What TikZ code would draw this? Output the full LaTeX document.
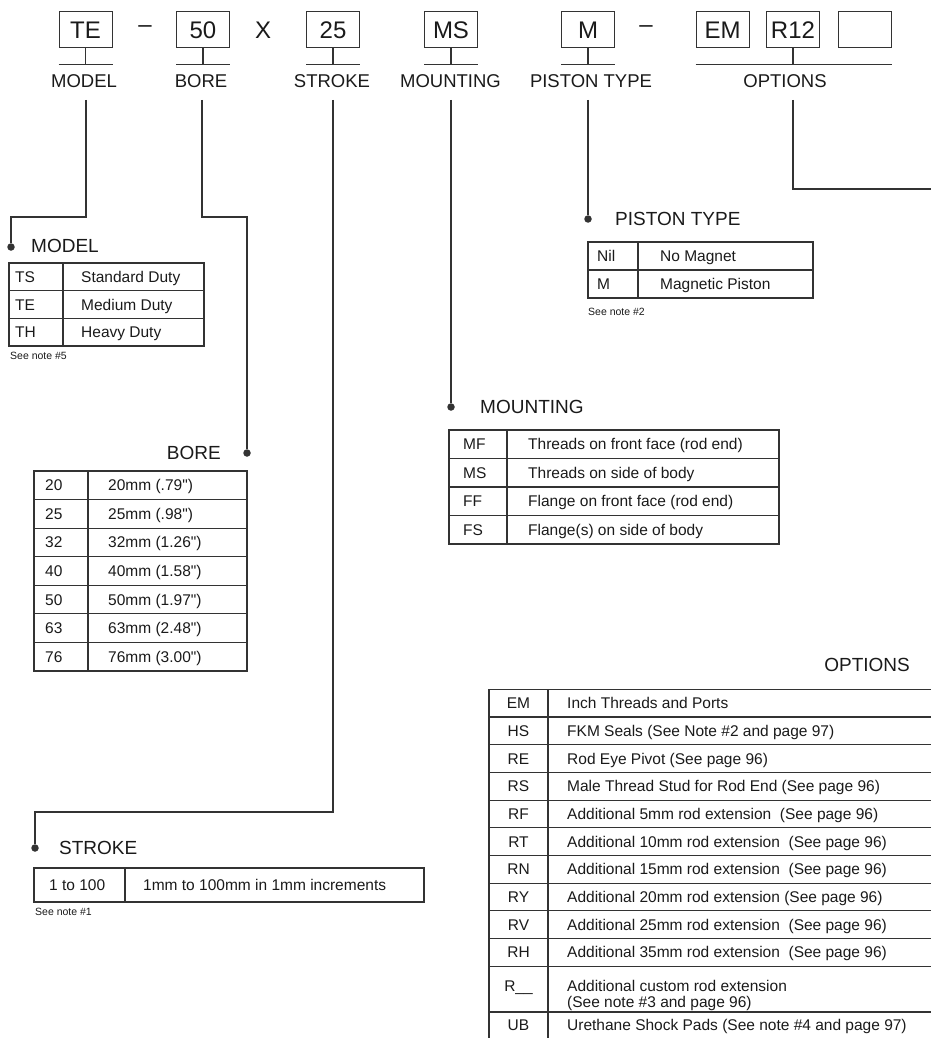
\documentclass[tikz,border=0pt]{standalone}
\usepackage{fontspec}
\setmainfont{Liberation Sans}
\usetikzlibrary{positioning}
\definecolor{linegray}{HTML}{333333}
\definecolor{inkgray}{HTML}{1A1A1A}

\tikzset{
  codebox/.style={draw=linegray, line width=1pt, minimum width=53pt, minimum height=36pt, inner sep=0pt, text=inkgray, font=\fontsize{24}{24}\selectfont},
  hdlabel/.style={inner sep=0pt, text=inkgray, font=\fontsize{18.5}{18.5}\selectfont},
  ttl/.style={inner sep=0pt, text=inkgray, font=\fontsize{19}{19}\selectfont},
  cell/.style={inner sep=0pt, anchor=west, text=inkgray, text height=11pt, text depth=0pt, font=\fontsize{15.5}{18}\selectfont},
  note/.style={inner sep=0pt, anchor=west, text=inkgray, font=\fontsize{10.5}{10.5}\selectfont},
  dot/.style={circle, fill=linegray, inner sep=0pt, minimum size=7.5pt},
  wire/.style={draw=linegray, line width=1.2pt},
  tbl/.style={draw=linegray, line width=1.1pt}
}

\begin{document}
\begin{tikzpicture}[x=1pt, y=-1pt]
\useasboundingbox (0,0) rectangle (931,1038);

% part number boxes
\foreach \n/\x/\t in {bTE/85.5/TE, bBore/203/50, bStroke/333/25, bMount/451/MS, bPiston/588/M, bEM/722.5/EM, bRod/793/R12}
  \node[codebox] (\n) at (\x,30) {\t};
\node[codebox] (bSpare) at (865,30) {};
\node[codebox, draw=none] (dashA) at (145,29) {--};
\node[codebox, draw=none] (times) at (263,30) {X};
\node[codebox, draw=none] (dashB) at (646,29) {--};

\foreach \n in {bTE,bBore,bStroke,bMount,bPiston} {
  \draw[wire] (\n.south) -- ++(0,16);
  \draw[wire] ([yshift=-16pt]\n.south west) -- ([yshift=-16pt]\n.south east);
}
\draw[wire] (bRod.south) -- ++(0,16);
\draw[wire] ([yshift=-16pt]bEM.south west) -- ([yshift=-16pt]bSpare.south east);

\node[hdlabel] (lModel) at (84,81) {MODEL};
\node[hdlabel] (lBore) at (201,81) {BORE};
\node[hdlabel] (lStroke) at (332,81) {STROKE};
\node[hdlabel] (lMount) at (450.5,81) {MOUNTING};
\node[hdlabel] (lPiston) at (591,81) {PISTON TYPE};
\node[hdlabel] (lOptions) at (785,81) {OPTIONS};

% leaders
\coordinate (cModel) at (86,100);
\coordinate (cBore) at (202,100);
\coordinate (cStroke) at (333,100);
\coordinate (cMount) at (451,100);
\coordinate (cPiston) at (588,100);
\coordinate (cOptions) at (793,100);

\node[dot] (dModel) at (11,247) {};
\node[dot] (dBore) at (247,453) {};
\node[dot] (dStroke) at (35,848) {};
\node[dot] (dMount) at (451,407) {};
\node[dot] (dPiston) at (588,219) {};
\coordinate (oEnd) at (931,189);

\draw[wire] (cModel) -- ++(0,117) -| (dModel);
\draw[wire] (cBore) -- ++(0,117) -| (dBore);
\draw[wire] (cStroke) -- ++(0,712) -| (dStroke);
\draw[wire] (cMount) -- (dMount);
\draw[wire] (cPiston) -- (dPiston);
\draw[wire] (cOptions) |- (oEnd);

% titles
\node[ttl, anchor=west] (tModel) at (31,246) {MODEL};
\node[ttl, anchor=east] (tBore) at (221,453) {BORE};
\node[ttl, anchor=west] (tStroke) at (59,848) {STROKE};
\node[ttl, anchor=west] (tMount) at (480,407) {MOUNTING};
\node[ttl, anchor=west] (tPiston) at (615,219) {PISTON TYPE};
\node[ttl, anchor=east] (tOptions) at (910,665) {OPTIONS};

% model table
\draw[tbl] (9,263) rectangle (204,346);
\draw[tbl] (63,263) -- (63,346);
\foreach \k/\v [count=\i] in {TS/Standard Duty, TE/Medium Duty, TH/Heavy Duty} {
  \pgfmathsetmacro\yy{263+(\i-0.5)*27.67}
  \pgfmathsetmacro\yl{263+(\i-1)*27.67}
  \ifnum\i>1 \draw[tbl] (9,\yl) -- (204,\yl); \fi
  \node[cell] (mk\i) at (15,\yy) {\k};
  \node[cell] (mv\i) at (81,\yy) {\v};
}
\node[note] (nModel) at (10,356) {See note \#5};

% bore table
\draw[tbl] (34,471) rectangle (247,671);
\draw[tbl] (88,471) -- (88,671);
\foreach \k/\v [count=\i] in {20/20mm (.79\textquotedbl), 25/25mm (.98\textquotedbl), 32/32mm (1.26\textquotedbl), 40/40mm (1.58\textquotedbl), 50/50mm (1.97\textquotedbl), 63/63mm (2.48\textquotedbl), 76/76mm (3.00\textquotedbl)} {
  \pgfmathsetmacro\yy{471+(\i-0.5)*28.57}
  \pgfmathsetmacro\yl{471+(\i-1)*28.57}
  \ifnum\i>1 \draw[tbl] (34,\yl) -- (247,\yl); \fi
  \node[cell] (bk\i) at (45,\yy) {\k};
  \node[cell] (bv\i) at (108,\yy) {\v};
}

% stroke table
\draw[tbl] (34,868) rectangle (424,902);
\draw[tbl] (125,868) -- (125,902);
\node[cell] (sk1) at (49,885) {1 to 100};
\node[cell] (sv1) at (143,885) {1mm to 100mm in 1mm increments};
\node[note] (nStroke) at (35,912) {See note \#1};

% mounting table
\draw[tbl] (449,430) rectangle (779,544);
\draw[tbl] (507,430) -- (507,544);
\foreach \k/\v [count=\i] in {MF/Threads on front face (rod end), MS/Threads on side of body, FF/Flange on front face (rod end), FS/Flange(s) on side of body} {
  \pgfmathsetmacro\yy{430+(\i-0.5)*28.5}
  \pgfmathsetmacro\yl{430+(\i-1)*28.5}
  \ifnum\i>1 \draw[tbl] (449,\yl) -- (779,\yl); \fi
  \node[cell] (uk\i) at (463,\yy) {\k};
  \node[cell] (uv\i) at (528,\yy) {\v};
}

% piston table
\draw[tbl] (588,242) rectangle (813,298);
\draw[tbl] (638,242) -- (638,298);
\foreach \k/\v [count=\i] in {Nil/No Magnet, M/Magnetic Piston} {
  \pgfmathsetmacro\yy{242+(\i-0.5)*28}
  \pgfmathsetmacro\yl{242+(\i-1)*28}
  \ifnum\i>1 \draw[tbl] (588,\yl) -- (813,\yl); \fi
  \node[cell] (pk\i) at (597,\yy) {\k};
  \node[cell] (pv\i) at (660,\yy) {\v};
}
\node[note] (nPiston) at (588,312) {See note \#2};

% options table
\draw[tbl] (489,1038) -- (489,689.3) -- (931,689.3);
\draw[tbl] (548,689.3) -- (548,1038);
\foreach \k/\v [count=\i] in {EM/Inch Threads and Ports, HS/FKM Seals (See Note \#2 and page 97), RE/Rod Eye Pivot (See page 96), RS/Male Thread Stud for Rod End (See page 96), RF/Additional 5mm rod extension\ \ (See page 96), RT/Additional 10mm rod extension\ \ (See page 96), RN/Additional 15mm rod extension\ \ (See page 96), RY/Additional 20mm rod extension (See page 96), RV/Additional 25mm rod extension\ \ (See page 96), RH/Additional 35mm rod extension\ \ (See page 96)} {
  \pgfmathsetmacro\yy{689.3+(\i-0.5)*27.7}
  \pgfmathsetmacro\yl{689.3+\i*27.7}
  \draw[tbl] (489,\yl) -- (931,\yl);
  \node[cell, anchor=center] (ok\i) at (518.5,\yy) {\k};
  \node[cell] (ov\i) at (567,\yy) {\v};
}
\draw[tbl] (489,1012) -- (931,1012);
\node[cell, anchor=center] (okC) at (518.5,986) {R\_\_};
\node[cell] (ovC) at (567,986) {Additional custom rod extension};
\node[cell] (ovCb) at (567,1002) {(See note \#3 and page 96)};
\node[cell, anchor=center] (okU) at (518.5,1025) {UB};
\node[cell] (ovU) at (567,1025) {Urethane Shock Pads (See note \#4 and page 97)};
\end{tikzpicture}
\end{document}
